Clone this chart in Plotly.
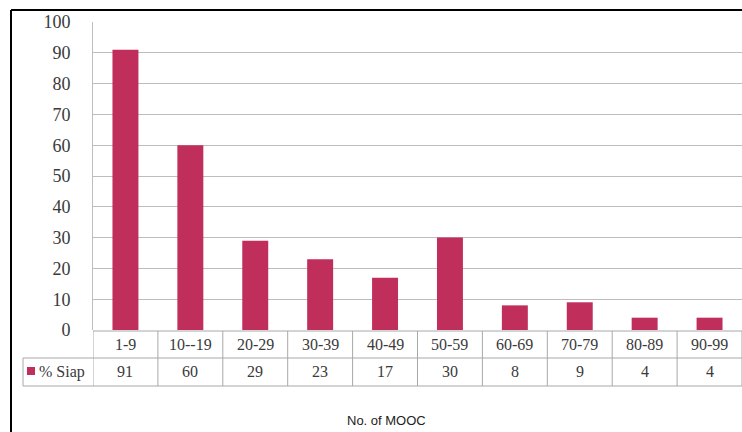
import plotly.graph_objects as go

categories = ["1-9", "10--19", "20-29", "30-39", "40-49", "50-59", "60-69", "70-79", "80-89", "90-99"]
values = [91, 60, 29, 23, 17, 30, 8, 9, 4, 4]
series_name = "% Siap"
x_title = "No. of MOOC"

W, H = 742, 432
ML, MR, MT, MB = 93, 0, 22, 102
PW = W - ML - MR
PH = H - MT - MB
BAR = "#C02F5C"
GRID = "#BDBDBD"
TXT = "#3A3A3A"
SERIF = "Liberation Serif"


def px_x(px):
    return (px - ML) / PW


def px_y(py):
    return (H - MB - py) / PH


fig = go.Figure()
fig.add_trace(go.Bar(x=list(range(len(categories))), y=values, name=series_name,
                     marker=dict(color=BAR, line=dict(width=0)), width=0.4,
                     hovertext=categories))

shapes = []
annotations = []
row1_top, row1_bot, row2_bot = 331, 358, 386
n = len(categories)
line_style = dict(color="#A8A8A8", width=1)

# horizontal table lines
shapes.append(dict(type="line", xref="x", yref="paper", x0=-0.5, x1=n - 0.5,
                   y0=px_y(row1_top), y1=px_y(row1_top), line=line_style))
for yy in (row1_bot, row2_bot):
    shapes.append(dict(type="line", xref="paper", yref="paper", x0=px_x(23), x1=px_x(W + 5),
                       y0=px_y(yy), y1=px_y(yy), line=line_style))
# vertical table lines
for i in range(n + 1):
    shapes.append(dict(type="line", xref="x", yref="paper", x0=i - 0.5, x1=i - 0.5,
                       y0=px_y(row1_top), y1=px_y(row2_bot), line=line_style))
shapes.append(dict(type="line", xref="paper", yref="paper", x0=px_x(23), x1=px_x(23),
                   y0=px_y(row1_bot), y1=px_y(row2_bot), line=line_style))
# legend key
shapes.append(dict(type="rect", xref="paper", yref="paper", x0=px_x(27), x1=px_x(35),
                   y0=px_y(375), y1=px_y(367), fillcolor=BAR, line=dict(width=0)))
# outer black frame (left and top edges)
shapes.append(dict(type="line", xref="paper", yref="paper", x0=px_x(11), x1=px_x(11),
                   y0=px_y(10), y1=px_y(H + 5), line=dict(color="black", width=2)))
shapes.append(dict(type="line", xref="paper", yref="paper", x0=px_x(11), x1=px_x(W + 5),
                   y0=px_y(10), y1=px_y(10), line=dict(color="black", width=2)))

for i, (c, v) in enumerate(zip(categories, values)):
    annotations.append(dict(x=i, y=px_y((row1_top + row1_bot) / 2), xref="x", yref="paper",
                            text=c, showarrow=False, yanchor="middle",
                            font=dict(family=SERIF, size=16, color=TXT)))
    annotations.append(dict(x=i, y=px_y((row1_bot + row2_bot) / 2), xref="x", yref="paper",
                            text=str(v), showarrow=False, yanchor="middle",
                            font=dict(family=SERIF, size=16, color=TXT)))
annotations.append(dict(x=px_x(37), y=px_y((row1_bot + row2_bot) / 2), xref="paper", yref="paper",
                        text=series_name, showarrow=False, xanchor="left", yanchor="middle",
                        font=dict(family=SERIF, size=16, color=TXT)))
annotations.append(dict(x=px_x(386), y=px_y(420), xref="paper", yref="paper",
                        text=x_title, showarrow=False, xanchor="center", yanchor="middle",
                        font=dict(family="Liberation Sans", size=13, color="#222222")))

fig.update_layout(
    width=W, height=H,
    margin=dict(l=ML, r=MR, t=MT, b=MB),
    paper_bgcolor="white", plot_bgcolor="white",
    showlegend=False,
    shapes=shapes, annotations=annotations,
    xaxis=dict(range=[-0.5, n - 0.5], showticklabels=False, showgrid=False,
               zeroline=False, showline=False, fixedrange=True),
    yaxis=dict(range=[0, 100], dtick=10, showgrid=True, gridcolor=GRID, gridwidth=1,
               zeroline=False, showline=True, linecolor=GRID, linewidth=1,
               ticks="", ticklabelstandoff=18,
               tickfont=dict(family=SERIF, size=18, color=TXT)),
    bargap=0.6,
)

fig.write_html("out.html", config={"displayModeBar": False},
               post_script="document.body.style.margin='0';document.body.style.overflow='hidden';")
